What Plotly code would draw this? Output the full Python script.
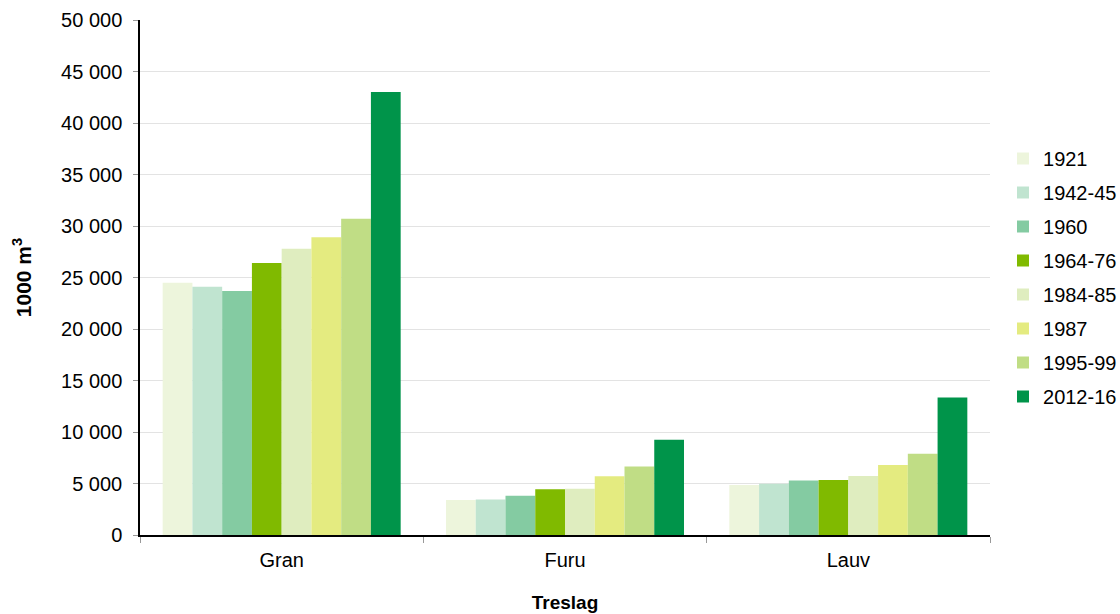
import plotly.graph_objects as go

# Tree species (x categories)
treslag = ["Gran", "Furu", "Lauv"]

# Inventory periods and their standing volume (1000 m³) per species
perioder = ["1921", "1942-45", "1960", "1964-76", "1984-85", "1987", "1995-99", "2012-16"]
volum_gran = [24500, 24100, 23700, 26400, 27800, 28900, 30700, 43000]
volum_furu = [3400, 3450, 3800, 4450, 4500, 5700, 6650, 9250]
volum_lauv = [4850, 4980, 5300, 5340, 5730, 6800, 7900, 13350]

farger = ["#EDF5DC", "#C0E4D0", "#84CBA2", "#80BA00",
          "#DFEDBF", "#E4EB80", "#C0DD85", "#00944A"]

y_ticks = list(range(0, 50001, 5000))
y_ticktext = [f"{v:,}".replace(",", "\u00a0") for v in y_ticks]

fig = go.Figure()
for i, periode in enumerate(perioder):
    fig.add_trace(go.Bar(
        name=periode,
        x=treslag,
        y=[volum_gran[i], volum_furu[i], volum_lauv[i]],
        marker=dict(color=farger[i], line=dict(width=0)),
        legendgroup=periode,
    ))

fig.update_layout(
    width=1120, height=614,
    margin=dict(l=140, r=130, t=20, b=79, pad=0, autoexpand=False),
    paper_bgcolor="white", plot_bgcolor="white",
    barmode="group", bargap=0.16, bargroupgap=0,
    font=dict(family="Liberation Sans, Arial, sans-serif", size=20, color="#000000"),
    legend=dict(
        x=1.0153, xanchor="left", y=0.5, yanchor="middle",
        traceorder="grouped", tracegroupgap=5,
        font=dict(size=20), itemwidth=30,
        bgcolor="rgba(0,0,0,0)",
    ),
    showlegend=True,
)

fig.update_xaxes(
    automargin=False,
    showline=True, linecolor="#000000", linewidth=1.5,
    ticks="outside", tickson="boundaries", ticklen=6, tickcolor="#999999",
    ticklabelstandoff=6,
    title=dict(text="<b>Treslag</b>", font=dict(size=19), standoff=26),
    showgrid=False,
)
fig.update_yaxes(
    automargin=False,
    range=[0, 50000],
    tickvals=y_ticks, ticktext=y_ticktext,
    showline=True, linecolor="#000000", linewidth=1.5,
    ticks="outside", ticklen=5, tickcolor="#999999",
    ticklabelstandoff=7,
    showgrid=True, gridcolor="#E3E3E3", gridwidth=1,
    zeroline=False,
    title=dict(text="<b>1000 m<sup>3</sup></b>", font=dict(size=21), standoff=24),
)

fig.write_html("out.html")
